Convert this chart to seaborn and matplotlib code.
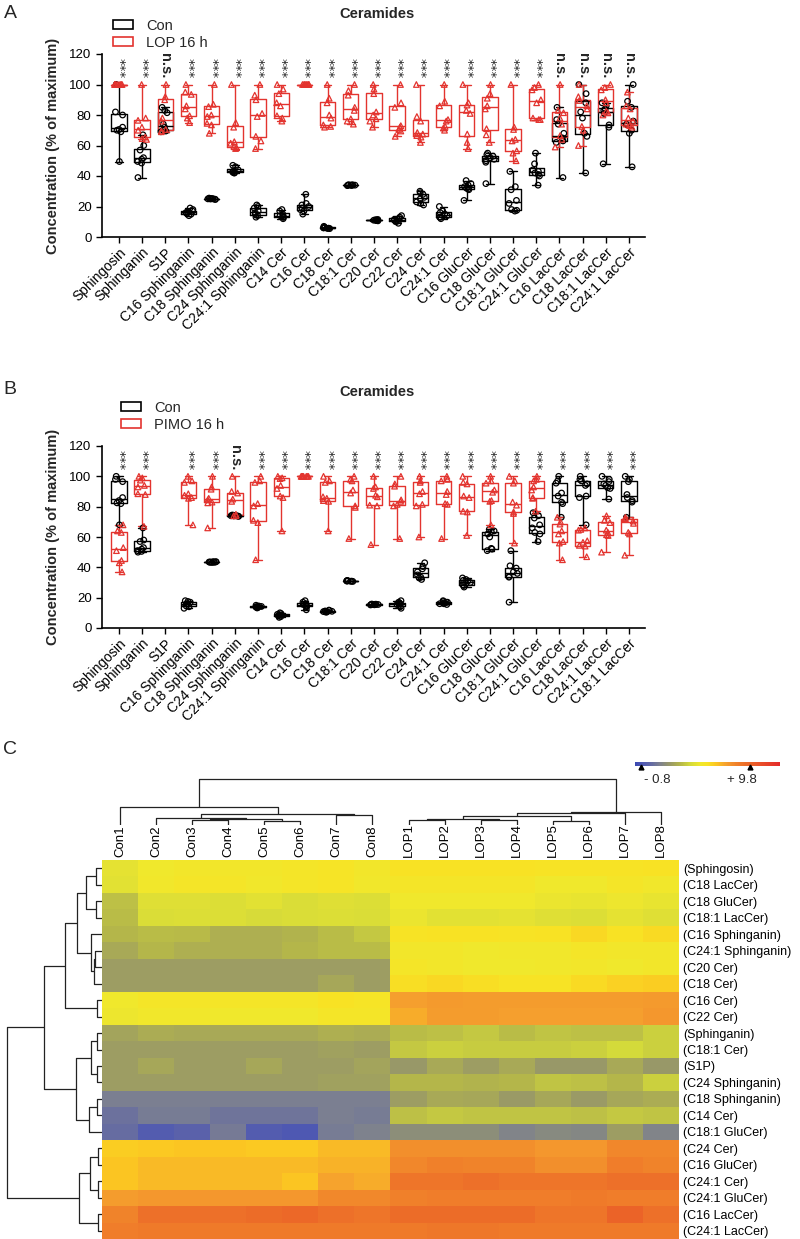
import numpy as np
import pandas as pd
import matplotlib
matplotlib.use('Agg')
import matplotlib.pyplot as plt
import matplotlib.transforms as mtransforms
import seaborn as sns
from matplotlib.colors import LinearSegmentedColormap, Normalize
from matplotlib.cm import ScalarMappable
from matplotlib.patches import Patch
from matplotlib import font_manager

sns.set_style('ticks')
plt.rcParams['font.family'] = ['Liberation Sans', 'DejaVu Sans']
plt.rcParams['axes.edgecolor'] = 'black'
plt.rcParams['xtick.color'] = 'black'
plt.rcParams['ytick.color'] = 'black'

# ---------------- panel A / B data (% of maximum, 8 samples per group) ----------------
lipids_A = ['Sphingosin', 'Sphinganin', 'S1P', 'C16 Sphinganin', 'C18 Sphinganin',
            'C24 Sphinganin', 'C24:1 Sphinganin', 'C14 Cer', 'C16 Cer', 'C18 Cer',
            'C18:1 Cer', 'C20 Cer', 'C22 Cer', 'C24 Cer', 'C24:1 Cer', 'C16 GluCer',
            'C18 GluCer', 'C18:1 GluCer', 'C24:1 GluCer', 'C16 LacCer', 'C18 LacCer',
            'C18:1 LacCer', 'C24:1 LacCer']

con_A = [
    [49.5, 69, 70, 70.5, 72, 80, 82, 100],
    [39, 48.5, 49.5, 51, 52, 57, 60, 67],
    [69, 69.5, 70, 72, 74, 81.5, 83, 85],
    [14, 15, 15.5, 16, 16.5, 17, 18, 19],
    [24.6, 24.8, 24.9, 25, 25, 25.2, 25.3, 25.5],
    [42, 42, 42.5, 43, 43, 44, 46, 47],
    [13, 14, 15, 16, 17, 19, 20, 21],
    [12, 13, 13, 14, 14, 15, 17, 18],
    [15, 17, 18, 19, 20, 21, 22, 28],
    [5.5, 5.6, 5.8, 6, 6, 6.2, 6.5, 7],
    [33.7, 33.8, 33.9, 34, 34, 34.1, 34.2, 34.3],
    [10.6, 10.8, 10.9, 11, 11, 11.1, 11.3, 11.5],
    [9, 10, 10.5, 11, 11.5, 12, 13, 14],
    [21, 22, 23, 25, 26, 28, 29, 30],
    [12, 13, 13, 14, 15, 16, 17, 20],
    [24, 31, 31.5, 32, 33, 34, 35, 37],
    [35, 49, 50, 51, 52, 53, 54, 55],
    [17, 17.5, 18, 22, 24, 31, 33, 43],
    [34, 40, 41, 42, 43, 44, 48, 55],
    [39, 62, 63, 65, 68, 74, 77, 85],
    [42, 66, 68, 78, 82, 88, 94, 100],
    [48, 72, 73.5, 81, 83, 84, 86, 88],
    [46, 68, 70, 74, 76, 85, 89, 100],
]

lop_A = [
    [100, 100, 100, 100, 100, 100, 100, 100],
    [64, 64.5, 65.5, 70, 72, 76.5, 78, 100],
    [69, 69.5, 70.5, 76, 78, 90, 92, 100],
    [75, 78, 79.5, 84, 86, 93.5, 95, 100],
    [68, 73.5, 74.5, 79, 80, 85.5, 87, 100],
    [58, 58.5, 59.5, 61.5, 62.5, 72, 75, 100],
    [58, 63, 66, 79, 81, 90, 93, 100],
    [76, 78, 79.5, 86, 88, 94, 97, 100],
    [100, 100, 100, 100, 100, 100, 100, 100],
    [72, 72.5, 73.5, 78, 80, 88, 91, 100],
    [74, 76, 77.5, 83, 85, 93, 96, 100],
    [72, 76, 77.5, 80, 82, 94, 97, 100],
    [66, 69.5, 70.5, 72, 73, 85, 88, 100],
    [62, 65.5, 66.5, 67.5, 68.5, 76, 79, 100],
    [70, 71.5, 72.5, 76, 77, 86, 89, 100],
    [58, 62, 67.5, 81, 83, 86.5, 88, 100],
    [62, 67, 71, 84, 86, 91, 94, 100],
    [50, 55, 56.5, 63, 64, 70.5, 72, 100],
    [77, 77, 78, 88, 90, 96.5, 98, 100],
    [59, 64, 66.5, 74, 78, 81.5, 83, 100],
    [60, 70, 72.5, 84, 86, 89.5, 92, 100],
    [80, 81.5, 82.5, 88, 90, 96.5, 98, 100],
    [72, 73, 74, 76, 78, 84, 86, 95],
]

sig_A = ['***', '***', 'n.s.'] + ['***'] * 16 + ['n.s.'] * 4

lipids_B = lipids_A[:21] + ['C24:1 LacCer', 'C18:1 LacCer']

con_B = [
    [68, 82, 82.5, 84, 86, 96.5, 98, 100],
    [50, 50.5, 51, 52, 53, 57, 58, 66],
    [],
    [13, 14, 14.5, 16, 16, 17, 17.5, 18],
    [43.2, 43.3, 43.4, 43.5, 43.5, 43.6, 43.7, 43.8],
    [73.6, 73.8, 73.9, 74, 74, 74.2, 74.3, 74.5],
    [13.2, 13.5, 13.8, 14, 14, 14.2, 14.5, 15],
    [7, 7.5, 8, 8.3, 8.5, 9, 9.5, 10],
    [12, 14, 14.5, 15, 15.5, 16, 17, 18],
    [10.4, 10.6, 10.8, 11, 11, 11.2, 11.5, 11.8],
    [30.7, 30.8, 30.9, 31, 31, 31.1, 31.2, 31.3],
    [15.2, 15.3, 15.4, 15.5, 15.5, 15.6, 15.7, 15.8],
    [13, 14, 15, 15.5, 16, 16.5, 17, 18],
    [32, 33, 33.5, 35, 37, 39, 40.5, 43],
    [15.5, 16, 16, 16.5, 17, 17, 17.5, 18],
    [27, 28, 28.5, 30, 31, 31.5, 32, 33],
    [51, 52, 52.5, 60, 62, 63.5, 64, 65],
    [17, 33.5, 34, 36, 37, 39.5, 41, 51],
    [57, 62, 63, 66, 68, 72.5, 74, 76],
    [73, 82, 83, 87, 89, 95.5, 97, 100],
    [68, 86, 87, 94, 95, 97, 98, 100],
    [85, 92, 92.5, 94, 95, 96.5, 98, 100],
    [73, 83, 84, 86, 88, 96.5, 98, 100],
]

pimo_B = [
    [37, 43, 44.5, 51, 53, 63, 64, 68],
    [67, 88, 88.5, 93, 94, 97.5, 99, 100],
    [],
    [68, 85.5, 86, 87.5, 88.5, 96, 97, 100],
    [66, 82.5, 83, 84.5, 85.5, 91.5, 93, 100],
    [74, 74, 75, 83.5, 85, 89, 90, 100],
    [45, 69.5, 71, 80.5, 82, 96, 97, 100],
    [64, 86, 87, 92, 94, 98.5, 99, 100],
    [100, 100, 100, 100, 100, 100, 100, 100],
    [64, 83.5, 84, 85.5, 86.5, 96, 97, 100],
    [59, 79.5, 80.5, 89, 91, 97, 98, 100],
    [55, 80.5, 81, 86.5, 87.5, 92, 93, 100],
    [59, 80.5, 81.5, 83.5, 84.5, 93.5, 95, 100],
    [60, 80.5, 81.5, 88.5, 90, 96, 97, 100],
    [59, 81.5, 82, 88, 90, 97, 98, 100],
    [61, 76.5, 77, 86, 87, 95, 96, 100],
    [68, 83.5, 84, 89.5, 91, 95.5, 97, 100],
    [56, 75.5, 76.5, 81, 83, 95.5, 97, 100],
    [77, 85.5, 86, 91, 93, 97, 98, 100],
    [45, 56, 57, 62, 64, 68.5, 70, 73],
    [47, 54, 54.5, 56.5, 57.5, 64.5, 65, 66],
    [50, 61, 61.5, 63, 64.5, 69.5, 71, 74],
    [48, 62, 63, 69, 70.5, 71.5, 72, 73],
]

sig_B = ['***', '***', ''] + ['***', '***', 'n.s.'] + ['***'] * 17

# ---------------- panel C data (heat map) ----------------
heat_cols = ['Con1', 'Con2', 'Con3', 'Con4', 'Con5', 'Con6', 'Con7', 'Con8',
             'LOP1', 'LOP2', 'LOP3', 'LOP4', 'LOP5', 'LOP6', 'LOP7', 'LOP8']
heat_rows = ['(Sphingosin)', '(C18 LacCer)', '(C18 GluCer)', '(C18:1 LacCer)',
             '(C16 Sphinganin)', '(C24:1 Sphinganin)', '(C20 Cer)', '(C18 Cer)',
             '(C16 Cer)', '(C22 Cer)', '(Sphinganin)', '(C18:1 Cer)', '(S1P)',
             '(C24 Sphinganin)', '(C18 Sphinganin)', '(C14 Cer)', '(C18:1 GluCer)',
             '(C24 Cer)', '(C16 GluCer)', '(C24:1 Cer)', '(C24:1 GluCer)',
             '(C16 LacCer)', '(C24:1 LacCer)']
heat_values = [
    [4.6, 5.0, 5.2, 5.2, 5.2, 5.3, 5.5, 5.2, 5.7, 5.7, 5.7, 5.7, 5.6, 5.6, 5.6, 5.7],
    [4.5, 5.1, 5.3, 5.3, 5.1, 5.3, 5.5, 5.1, 5.4, 5.4, 5.4, 5.3, 5.0, 5.0, 5.3, 5.1],
    [3.3, 4.4, 4.4, 4.3, 4.5, 4.2, 4.4, 4.3, 5.0, 5.0, 5.0, 5.0, 4.8, 4.7, 4.9, 4.7],
    [3.2, 4.2, 4.3, 4.3, 4.1, 4.2, 4.3, 4.2, 4.8, 4.5, 4.5, 4.6, 4.4, 4.3, 4.6, 4.4],
    [3.0, 3.2, 3.1, 2.8, 2.8, 2.9, 3.2, 3.5, 5.6, 5.7, 5.7, 5.6, 5.7, 6.0, 5.7, 5.9],
    [2.6, 3.0, 2.8, 2.8, 2.8, 3.0, 3.2, 3.2, 5.2, 5.2, 5.0, 5.1, 5.1, 5.3, 5.2, 5.2],
    [2.2, 2.2, 2.2, 2.2, 2.2, 2.2, 2.2, 2.2, 5.3, 5.2, 5.0, 5.0, 5.1, 5.2, 5.0, 5.2],
    [2.2, 2.2, 2.2, 2.2, 2.2, 2.2, 2.5, 2.2, 5.8, 6.0, 5.8, 5.6, 5.6, 5.9, 6.2, 6.3],
    [5.0, 5.3, 5.3, 5.3, 5.3, 5.4, 5.7, 5.5, 7.5, 7.7, 7.6, 7.6, 7.6, 7.6, 7.6, 7.7],
    [4.9, 5.1, 5.1, 5.0, 5.0, 5.0, 5.3, 5.3, 7.2, 7.6, 7.6, 7.5, 7.5, 7.5, 7.5, 7.8],
    [2.4, 2.7, 2.6, 2.6, 2.6, 2.6, 2.8, 2.7, 3.2, 3.3, 3.5, 3.2, 3.4, 3.3, 3.3, 3.7],
    [2.2, 2.2, 2.2, 2.2, 2.2, 2.2, 2.3, 2.2, 3.5, 3.7, 3.6, 3.6, 3.6, 3.7, 4.0, 3.7],
    [2.2, 2.5, 2.2, 2.2, 2.5, 2.2, 2.2, 2.4, 2.0, 2.6, 2.2, 2.6, 2.0, 2.0, 2.6, 2.0],
    [2.2, 2.2, 2.2, 2.2, 2.2, 2.2, 2.3, 2.3, 3.0, 3.0, 2.9, 3.0, 3.4, 3.3, 3.0, 3.7],
    [1.0, 1.0, 1.0, 1.0, 1.0, 1.0, 1.0, 1.0, 2.2, 2.6, 2.5, 2.1, 2.5, 2.1, 2.5, 2.7],
    [0.5, 0.9, 0.9, 0.6, 0.6, 0.6, 1.0, 0.9, 3.3, 3.5, 3.4, 3.4, 3.4, 3.3, 3.5, 3.4],
    [0.3, -0.4, -0.1, 0.8, -0.4, -0.6, 0.9, 1.1, 1.6, 1.6, 1.6, 1.2, 1.4, 1.3, 2.2, 1.2],
    [6.3, 6.4, 6.5, 6.5, 6.4, 6.4, 6.8, 6.8, 8.0, 8.0, 8.0, 8.0, 7.8, 7.8, 8.3, 8.3],
    [6.5, 6.8, 6.8, 6.8, 6.8, 6.8, 7.0, 7.0, 8.3, 8.5, 8.4, 8.4, 8.0, 8.0, 8.6, 8.4],
    [6.5, 6.8, 6.8, 6.8, 6.8, 6.5, 7.4, 7.2, 9.0, 9.0, 9.2, 9.0, 9.0, 9.0, 9.2, 9.2],
    [7.6, 7.8, 7.8, 7.8, 7.8, 7.8, 8.2, 8.2, 8.5, 8.6, 8.6, 8.6, 8.6, 8.8, 8.6, 8.6],
    [8.4, 9.2, 9.2, 9.2, 9.4, 9.6, 9.2, 9.0, 9.4, 9.4, 9.4, 9.4, 9.0, 9.0, 9.8, 9.2],
    [8.6, 8.8, 8.8, 8.8, 8.8, 8.8, 8.8, 8.8, 8.8, 8.9, 8.9, 8.8, 8.8, 8.8, 8.8, 8.8],
]

# dendrograms: (child a, child b, height); ids >= n are earlier merges
col_merges = [(2, 3, 5.0), (4, 5, 3.7), (16, 17, 6.0), (1, 18, 7.0), (6, 7, 10.3),
              (19, 20, 11.3), (0, 21, 18.3), (8, 9, 5.0), (10, 11, 5.5), (23, 24, 6.0),
              (12, 13, 4.3), (25, 26, 9.3), (27, 14, 11.7), (28, 15, 12.7), (22, 29, 45.7)]
row_merges = [(0, 1, 5.7), (2, 3, 5.7), (23, 24, 15.7), (5, 6, 6.7), (26, 7, 8.3),
              (4, 27, 11.0), (25, 28, 25.0), (8, 9, 5.0), (29, 30, 36.7), (10, 11, 5.0),
              (12, 13, 5.0), (32, 33, 11.0), (14, 15, 5.0), (35, 16, 13.3), (34, 36, 25.7),
              (31, 37, 58.3), (17, 18, 4.3), (19, 20, 4.3), (39, 40, 12.3), (21, 22, 4.3),
              (41, 42, 23.3), (38, 43, 95.0)]

# colour scale of the heat map
vmin, vmax = -1.35, 12.7
scale_stops = [(-1.35, '#3a48b0'), (-0.8, '#4a55b5'), (0.0, '#5d64a8'), (1.0, '#7c8090'),
               (2.0, '#989868'), (3.0, '#b4b64a'), (4.0, '#d4da3a'), (5.0, '#f0e82c'),
               (5.7, '#f8e224'), (6.5, '#fbc622'), (7.5, '#f5a02e'), (8.5, '#f0802a'),
               (9.5, '#ec6a28'), (12.7, '#e42a2a')]
scale_marks = [-0.8, 9.8]

RED = '#e3342f'
W, H = 800, 1239
fig = plt.figure(figsize=(W / 100, H / 100), dpi=100)


def px(left, top, right, bottom):
    return [left / W, 1 - bottom / H, (right - left) / W, (bottom - top) / H]


def open_markers(ax, start, color):
    for c in ax.collections[start:]:
        c.set_facecolor('none')
        c.set_edgecolor(color)
        c.set_linewidth(0.9)


def box_panel(ax, cats, con, trt, trt_name, sig):
    rows = []
    for name, groups in [('Con', con), (trt_name, trt)]:
        for cat, vals in zip(cats, groups):
            for v in vals:
                rows.append((cat, name, v))
    df = pd.DataFrame(rows, columns=['lipid', 'group', 'value'])
    sns.boxplot(data=df, x='lipid', y='value', hue='group', order=cats,
                hue_order=['Con', trt_name], palette={'Con': 'black', trt_name: RED},
                dodge=False, fill=False, whis=(0, 100), width=0.66, linewidth=1.0,
                showfliers=False, legend=False, ax=ax)
    np.random.seed(3)
    for name, col, mk in [('Con', 'black', 'o'), (trt_name, RED, '^')]:
        n0 = len(ax.collections)
        sns.stripplot(data=df[df.group == name], x='lipid', y='value', order=cats,
                      color=col, marker=mk, size=4, jitter=0.2, ax=ax)
        open_markers(ax, n0, col)
    for i, s in enumerate(sig):
        if s == '***':
            ax.text(i, 104, s, rotation=270, ha='center', va='bottom',
                    fontsize=9.5, fontfamily='DejaVu Sans')
        elif s:
            ax.text(i, 104, s, rotation=270, ha='center', va='bottom',
                    fontsize=10.5, fontweight='bold')
    ax.set_ylim(0, 120)
    ax.set_yticks(range(0, 121, 20))
    ax.set_xlim(-0.73, len(cats) - 0.31)
    ax.set_xticks(range(len(cats)))
    ax.set_xticklabels(cats, rotation=45, ha='right', rotation_mode='anchor', fontsize=10)
    ax.tick_params(axis='y', labelsize=9.5, length=4, width=1)
    ax.tick_params(axis='x', length=4, width=1, pad=2)
    ax.set_xlabel('')
    ax.set_ylabel('Concentration (% of maximum)', fontsize=10.5, fontweight='bold')
    ax.yaxis.set_label_coords(-0.077, 0.5)
    for sp in ['top', 'right']:
        ax.spines[sp].set_visible(False)
    for sp in ['left', 'bottom']:
        ax.spines[sp].set_linewidth(1.2)


def legend_at(x, y, label):
    fig.legend(handles=[Patch(facecolor='none', edgecolor='black', lw=1.2, label='Con'),
                        Patch(facecolor='none', edgecolor=RED, lw=1.2, label=label)],
               loc='upper left', bbox_to_anchor=(x / W, 1 - y / H), frameon=False,
               fontsize=10.5, handlelength=1.35, handleheight=0.6, handletextpad=0.9,
               labelspacing=0.2, borderpad=0, borderaxespad=0)


# ---------------- A ----------------
axA = fig.add_axes(px(102, 54, 645, 237))
box_panel(axA, lipids_A, con_A, lop_A, 'LOP 16 h', sig_A)
fig.text(10 / W, 1 - 13 / H, 'A', fontsize=14, ha='center', va='center')
fig.text(377 / W, 1 - 14 / H, 'Ceramides', fontsize=10.5, fontweight='bold', ha='center', va='center')
legend_at(113, 19, 'LOP 16 h')

# ---------------- B ----------------
axB = fig.add_axes(px(102, 446, 645, 628))
box_panel(axB, lipids_B, con_B, pimo_B, 'PIMO 16 h', sig_B)
fig.text(10 / W, 1 - 390 / H, 'B', fontsize=14, ha='center', va='center')
fig.text(377 / W, 1 - 392 / H, 'Ceramides', fontsize=10.5, fontweight='bold', ha='center', va='center')
legend_at(121, 401, 'PIMO 16 h')

# ---------------- C ----------------
fig.text(10 / W, 1 - 750 / H, 'C', fontsize=14, ha='center', va='center')

try:
    font_manager.findfont('Liberation Sans Narrow', fallback_to_default=False)
    row_font = {'family': ['Liberation Sans Narrow', 'Liberation Sans'], 'size': 10.5}
except ValueError:
    row_font = {'family': ['Liberation Sans'], 'size': 9}

cmap = LinearSegmentedColormap.from_list(
    'cer', [((v - vmin) / (vmax - vmin), c) for v, c in scale_stops])

axC = fig.add_axes(px(102, 860, 679, 1239))
heat = pd.DataFrame(heat_values, index=heat_rows, columns=heat_cols)
sns.heatmap(heat, ax=axC, cmap=cmap, vmin=vmin, vmax=vmax, cbar=False,
            xticklabels=True, yticklabels=True)
axC.xaxis.tick_top()
axC.yaxis.tick_right()
axC.tick_params(axis='both', length=0)
axC.tick_params(axis='x', pad=2)
axC.tick_params(axis='y', pad=3)
axC.set_xticklabels(heat_cols, rotation=90, fontsize=9.5)
axC.set_yticklabels(heat_rows, rotation=0, fontfamily=row_font['family'], fontsize=row_font['size'])
axC.set_xlabel('')
axC.set_ylabel('')


def draw_dendro(ax, n, merges, top):
    pos = {i: i + 0.5 for i in range(n)}
    hgt = {i: 0.0 for i in range(n)}
    for k, (a, b, h) in enumerate(merges):
        xs = [pos[a], pos[a], pos[b], pos[b]]
        ys = [hgt[a], h, h, hgt[b]]
        if top:
            ax.plot(xs, ys, color='#222222', lw=0.9, solid_capstyle='butt')
        else:
            ax.plot(ys, xs, color='#222222', lw=0.9, solid_capstyle='butt')
        pos[n + k] = (pos[a] + pos[b]) / 2
        hgt[n + k] = h
    ax.axis('off')


axT = fig.add_axes(px(102, 770, 679, 825))
draw_dendro(axT, len(heat_cols), col_merges, True)
axT.set_xlim(0, len(heat_cols))
axT.set_ylim(0, 55)

axL = fig.add_axes(px(5, 860, 102, 1239))
draw_dendro(axL, len(heat_rows), row_merges, False)
axL.set_xlim(97, 0)
axL.set_ylim(len(heat_rows), 0)

cax = fig.add_axes(px(635, 762, 780, 766))
cb = fig.colorbar(ScalarMappable(norm=Normalize(vmin, vmax), cmap=cmap), cax=cax,
                  orientation='horizontal')
cb.outline.set_visible(False)
cax.set_xticks([])
blend = mtransforms.blended_transform_factory(cax.transData, cax.transAxes)
cax.plot(scale_marks, [-0.3] * len(scale_marks), linestyle='none', marker='^',
         color='black', ms=3.5, transform=blend, clip_on=False)
cax.text(-0.5, -3.5, '- 0.8', transform=blend, ha='left', va='center',
         fontfamily=row_font['family'], fontsize=row_font['size'] + 0.5)
cax.text(7.6, -3.5, '+ 9.8', transform=blend, ha='left', va='center',
         fontfamily=row_font['family'], fontsize=row_font['size'] + 0.5)

fig.savefig('out.png', dpi=100)
